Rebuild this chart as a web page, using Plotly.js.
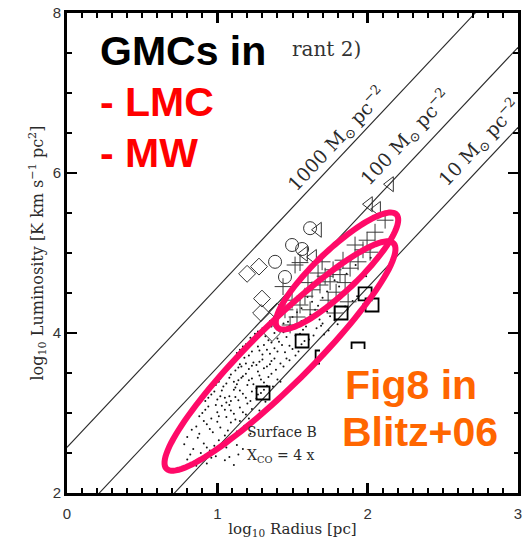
<!DOCTYPE html>
<html>
<head>
<meta charset="utf-8">
<script src="https://cdn.plot.ly/plotly-3.0.1.min.js"></script>
<style>
  html, body { margin: 0; padding: 0; background: #fff; }
  #chart { width: 531px; height: 539px; }
</style>
</head>
<body>
<div id="chart"></div>
<script>
// Constant surface-density lines: log L = 2 log R + log(Sigma) + offset
const surfaceDensity = [1000, 100, 10];
const densityLabels = ['1000 M<sub>⊙</sub> pc<sup>−2</sup>', '100 M<sub>⊙</sub> pc<sup>−2</sup>', '10 M<sub>⊙</sub> pc<sup>−2</sup>'];
const lumOffset = -0.43;
const radiusSpan = [0, 3];

// LMC clouds (squares)
const sqR = [1.564, 1.304, 1.823, 1.983, 2.029, 1.697, 1.936];
const sqL = [3.90, 3.25, 4.25, 4.49, 4.35, 3.70, 3.80];

// Other galaxies (diamonds, circles, triangles)
const diaR = [1.198, 1.277, 1.297, 1.291, 1.364, 1.397];
const diaL = [4.74, 4.83, 4.43, 4.25, 4.00, 4.27];
const cirR = [1.617, 1.497, 1.564, 1.384, 1.450];
const cirL = [5.31, 5.10, 5.05, 4.89, 4.70];
const triR = [2.149, 2.009, 2.063, 1.670, 1.637, 1.577];
const triL = [5.86, 5.61, 5.55, 5.29, 4.95, 4.99];

// Crosses
const plusR = [2.116, 1.996, 1.969, 1.916, 1.836, 1.883, 1.816, 1.770, 1.750, 1.717, 1.683, 1.670,
               1.630, 1.603, 1.583, 1.550, 1.550, 1.530, 1.497, 1.484, 1.437, 1.450, 1.517, 1.850,
               1.936, 2.016, 2.049, 1.617, 1.737, 1.790, 1.697, 1.870, 1.783];
const plusL = [5.41, 5.16, 5.04, 5.10, 4.91, 4.81, 4.73, 4.79, 4.64, 4.71, 4.60, 4.75,
               4.54, 4.63, 4.46, 4.88, 4.35, 4.20, 4.41, 4.10, 4.58, 4.29, 4.85, 4.63,
               4.89, 5.01, 5.26, 4.29, 4.41, 4.51, 4.89, 4.39, 4.25];

// Milky Way clouds (dots)
const dotR = [0.80,0.86,0.93,0.99,1.05,1.11,1.14,0.89,0.82,0.96,1.08,
  0.78,0.84,0.91,0.95,1.01,1.06,1.10,1.17,0.87,0.98,0.80,0.93,1.04,1.13,
  0.83,0.88,0.93,0.97,1.02,1.05,1.09,1.13,1.18,0.91,1.00,1.22,0.86,0.95,1.07,1.15,1.11,
  0.88,0.92,0.96,1.00,1.03,1.06,1.09,1.12,1.15,1.19,1.23,1.26,0.99,1.08,0.90,0.94,1.01,1.05,1.11,1.17,1.21,1.28,
  0.92,0.96,1.00,1.03,1.06,1.08,1.11,1.14,1.17,1.20,1.23,1.26,1.29,1.32,1.12,1.05,0.94,0.98,1.02,1.09,1.15,1.19,1.22,1.27,1.31,
  0.99,1.02,1.06,1.09,1.12,1.14,1.17,1.20,1.23,1.26,1.28,1.31,1.34,1.37,1.40,1.11,1.19,1.01,1.04,1.08,1.13,1.16,1.21,1.24,1.29,1.33,1.36,1.42,
  1.06,1.09,1.12,1.15,1.18,1.21,1.24,1.27,1.30,1.33,1.36,1.39,1.42,1.46,1.16,1.26,1.08,1.11,1.14,1.19,1.23,1.28,1.31,1.35,1.38,1.44,1.48,
  1.13,1.17,1.21,1.24,1.28,1.31,1.35,1.38,1.41,1.45,1.48,1.52,1.56,1.33,1.15,1.19,1.23,1.27,1.30,1.36,1.40,1.43,1.50,1.54,1.58,
  1.22,1.27,1.32,1.36,1.40,1.44,1.48,1.52,1.57,1.61,1.66,1.71,1.25,1.30,1.34,1.38,1.46,1.50,1.55,1.59,1.64,1.69,1.74,
  1.35,1.41,1.47,1.53,1.59,1.65,1.70,1.75,1.80,1.38,1.44,1.50,1.56,1.62,1.68,1.73,1.78,
  1.52,1.60,1.67,1.73,1.79,1.85,1.88,1.93,1.97,1.56,1.63,1.70,1.76,1.83,1.90,1.81,
  1.78,1.86,1.92,1.99,2.02,1.89];
const dotL = [2.42,2.34,2.37,2.46,2.41,2.35,2.48,2.50,2.48,2.44,2.45,
  2.61,2.55,2.62,2.53,2.66,2.57,2.68,2.55,2.69,2.59,2.70,2.57,2.63,2.60,
  2.79,2.74,2.86,2.76,2.82,2.72,2.88,2.77,2.84,2.90,2.89,2.74,2.83,2.80,2.78,2.90,2.71,
  2.96,3.04,2.93,3.01,3.09,2.95,3.03,2.92,3.07,2.98,3.05,2.94,3.10,3.10,3.00,3.08,2.96,3.04,2.99,3.01,2.93,3.03,
  3.15,3.23,3.17,3.28,3.13,3.21,3.29,3.16,3.24,3.12,3.27,3.18,3.25,3.14,3.20,3.19,3.19,3.27,3.21,3.15,3.28,3.19,3.15,3.23,3.29,
  3.35,3.43,3.37,3.48,3.32,3.41,3.46,3.35,3.43,3.31,3.47,3.38,3.45,3.33,3.42,3.39,3.49,3.39,3.33,3.44,3.36,3.44,3.41,3.36,3.42,3.34,3.49,3.39,
  3.56,3.64,3.53,3.61,3.69,3.55,3.63,3.52,3.67,3.58,3.65,3.54,3.62,3.68,3.58,3.60,3.59,3.68,3.57,3.62,3.59,3.64,3.56,3.61,3.68,3.58,3.66,
  3.75,3.83,3.72,3.88,3.78,3.85,3.74,3.81,3.89,3.76,3.84,3.72,3.86,3.79,3.79,3.86,3.77,3.83,3.73,3.88,3.77,3.85,3.80,3.77,3.90,
  3.94,4.02,3.96,4.08,3.93,4.01,4.09,3.97,4.04,3.92,4.06,3.98,3.99,4.06,3.91,4.00,3.95,4.06,3.99,4.08,3.97,4.09,4.03,
  4.15,4.23,4.14,4.26,4.18,4.29,4.12,4.21,4.11,4.21,4.12,4.20,4.15,4.23,4.17,4.27,4.16,
  4.38,4.45,4.34,4.52,4.41,4.33,4.57,4.46,4.36,4.31,4.39,4.44,4.36,4.48,4.40,4.58,
  4.66,4.74,4.85,4.71,4.94,4.92];

// Plot frame in pixels
const M = { l: 67, r: 13, t: 13, b: 46 };
const PW = 531 - M.l - M.r, PH = 539 - M.t - M.b;
const xRange = [0, 3], yRange = [2, 8];
const toX = px => xRange[0] + (px - M.l) / PW * (xRange[1] - xRange[0]);
const toY = py => yRange[1] - (py - M.t) / PH * (yRange[1] - yRange[0]);
const paperX = px => (px - M.l) / PW;
const paperY = py => (M.t + PH - py) / PH;

// Highlight rings, specified in screen pixels: centre, semi-axes, tilt
function ringPath(cx, cy, a, b, deg) {
  const th = deg * Math.PI / 180;
  const ux = Math.cos(th), uy = -Math.sin(th);
  const vx = Math.sin(th), vy = Math.cos(th);
  let d = '';
  for (let i = 0; i <= 120; i++) {
    const t = 2 * Math.PI * i / 120;
    const px = cx + a * Math.cos(t) * ux + b * Math.sin(t) * vx;
    const py = cy + a * Math.cos(t) * uy + b * Math.sin(t) * vy;
    d += (i ? ' L ' : 'M ') + toX(px).toFixed(4) + ',' + toY(py).toFixed(4);
  }
  return d + ' Z';
}

const ink = '#2a2a2a';
const traces = [];
surfaceDensity.forEach(s => {
  const c = Math.log10(s) + lumOffset;
  traces.push({
    x: radiusSpan, y: radiusSpan.map(r => 2 * r + c),
    mode: 'lines', line: { color: ink, width: 1.1 }, hoverinfo: 'skip', showlegend: false
  });
});
traces.push({ x: dotR, y: dotL, mode: 'markers', marker: { symbol: 'circle', size: 2, color: '#111' }, showlegend: false });
traces.push({ x: plusR, y: plusL, mode: 'markers', marker: { symbol: 'cross-thin-open', size: 12, color: '#3a3a3a', line: { color: '#3a3a3a', width: 1 } }, showlegend: false });
traces.push({ x: diaR, y: diaL, mode: 'markers', marker: { symbol: 'diamond-open', size: 13, color: '#333', line: { color: '#333', width: 1 } }, showlegend: false });
traces.push({ x: cirR, y: cirL, mode: 'markers', marker: { symbol: 'circle-open', size: 13, color: '#333', line: { color: '#333', width: 1 } }, showlegend: false });
traces.push({ x: triR, y: triL, mode: 'markers', marker: { symbol: 'triangle-left-open', size: 13, color: '#333', line: { color: '#333', width: 1 } }, showlegend: false });
traces.push({ x: sqR, y: sqL, mode: 'markers', marker: { symbol: 'square-open', size: 13, color: '#000', line: { color: '#000', width: 1.8 } }, showlegend: false });

const serif = 'DejaVu Serif, Liberation Serif, serif';
const sans = 'Liberation Sans, Arial, sans-serif';
const pink = '#FF0A68';

// Line labels sit just above each line, rotated along it
const lineAngle = -Math.atan((2 * PH / 6) / (PW / 3)) * 180 / Math.PI;
const labelPx = [[337, 140], [405, 138], [479, 143]];

function note(text, px, py, font, extra) {
  return Object.assign({
    text: text, xref: 'paper', yref: 'paper', x: paperX(px), y: paperY(py),
    xanchor: 'center', yanchor: 'middle', showarrow: false, font: font
  }, extra || {});
}

const annotations = densityLabels.map((t, i) =>
  note(t, labelPx[i][0], labelPx[i][1], { family: serif, size: 19, color: ink }, { textangle: lineAngle }));
annotations.push(
  note('rant 2)', 326, 49, { family: serif, size: 20, color: '#333' }),
  note('Surface B', 245, 432, { family: serif, size: 14, color: ink }, { xanchor: 'left' }),
  note('X<sub>CO</sub> = 4 x', 245, 456, { family: serif, size: 14, color: ink }, { xanchor: 'left' }),
  note('<b>GMCs in</b>', 98, 51, { family: sans, size: 41, color: '#000' }, { xanchor: 'left' }),
  note('<b>- LMC</b>', 98, 102, { family: sans, size: 41, color: '#FF0000' }, { xanchor: 'left' }),
  note('<b>- MW</b>', 98, 153, { family: sans, size: 41, color: '#FF0000' }, { xanchor: 'left' }),
  note('<b>Fig8 in</b>', 343, 385, { family: sans, size: 41, color: '#FF6600' }, { xanchor: 'left' }),
  note('<b>Blitz+06</b>', 340, 432, { family: sans, size: 41, color: '#FF6600' }, { xanchor: 'left' })
);

const shapes = [
  { type: 'rect', xref: 'paper', yref: 'paper', x0: paperX(320), x1: paperX(514), y0: paperY(470), y1: paperY(349),
    fillcolor: '#fff', line: { width: 0 }, layer: 'above' },
  { type: 'path', xref: 'x', yref: 'y', path: ringPath(280, 356, 160, 30, 44.8), line: { color: pink, width: 6 }, layer: 'above' },
  { type: 'path', xref: 'x', yref: 'y', path: ringPath(337, 271, 82, 21, 43.5), line: { color: pink, width: 6 }, layer: 'above' }
];

const axisBase = {
  showgrid: false, zeroline: false, showline: true, linewidth: 3, linecolor: '#000',
  mirror: 'allticks', ticks: 'inside', ticklen: 10, tickwidth: 2.5, tickcolor: '#000',
  tickfont: { family: sans, size: 15, color: '#333' }, automargin: false, fixedrange: true
};

const layout = {
  width: 531, height: 539, margin: M,
  paper_bgcolor: '#fff', plot_bgcolor: '#fff', showlegend: false,
  xaxis: Object.assign({}, axisBase, {
    range: xRange, dtick: 1, tick0: 0, ticklabelstandoff: 5,
    minor: { ticks: 'inside', ticklen: 5, tickwidth: 2, dtick: 0.1, tickcolor: '#000' },
    title: { text: 'log<sub>10</sub> Radius [pc]', font: { family: serif, size: 15, color: ink }, standoff: 10 }
  }),
  yaxis: Object.assign({}, axisBase, {
    range: yRange, dtick: 2, tick0: 2,
    minor: { ticks: 'inside', ticklen: 5, tickwidth: 2, dtick: 0.5, tickcolor: '#000' },
    title: { text: 'log<sub>10</sub> Luminosity [K km s<sup>−1</sup> pc<sup>2</sup>]', font: { family: serif, size: 16, color: ink }, standoff: 6 }
  }),
  annotations: annotations,
  shapes: shapes
};

Plotly.newPlot('chart', traces, layout, { displayModeBar: false, staticPlot: true });
</script>
</body>
</html>
